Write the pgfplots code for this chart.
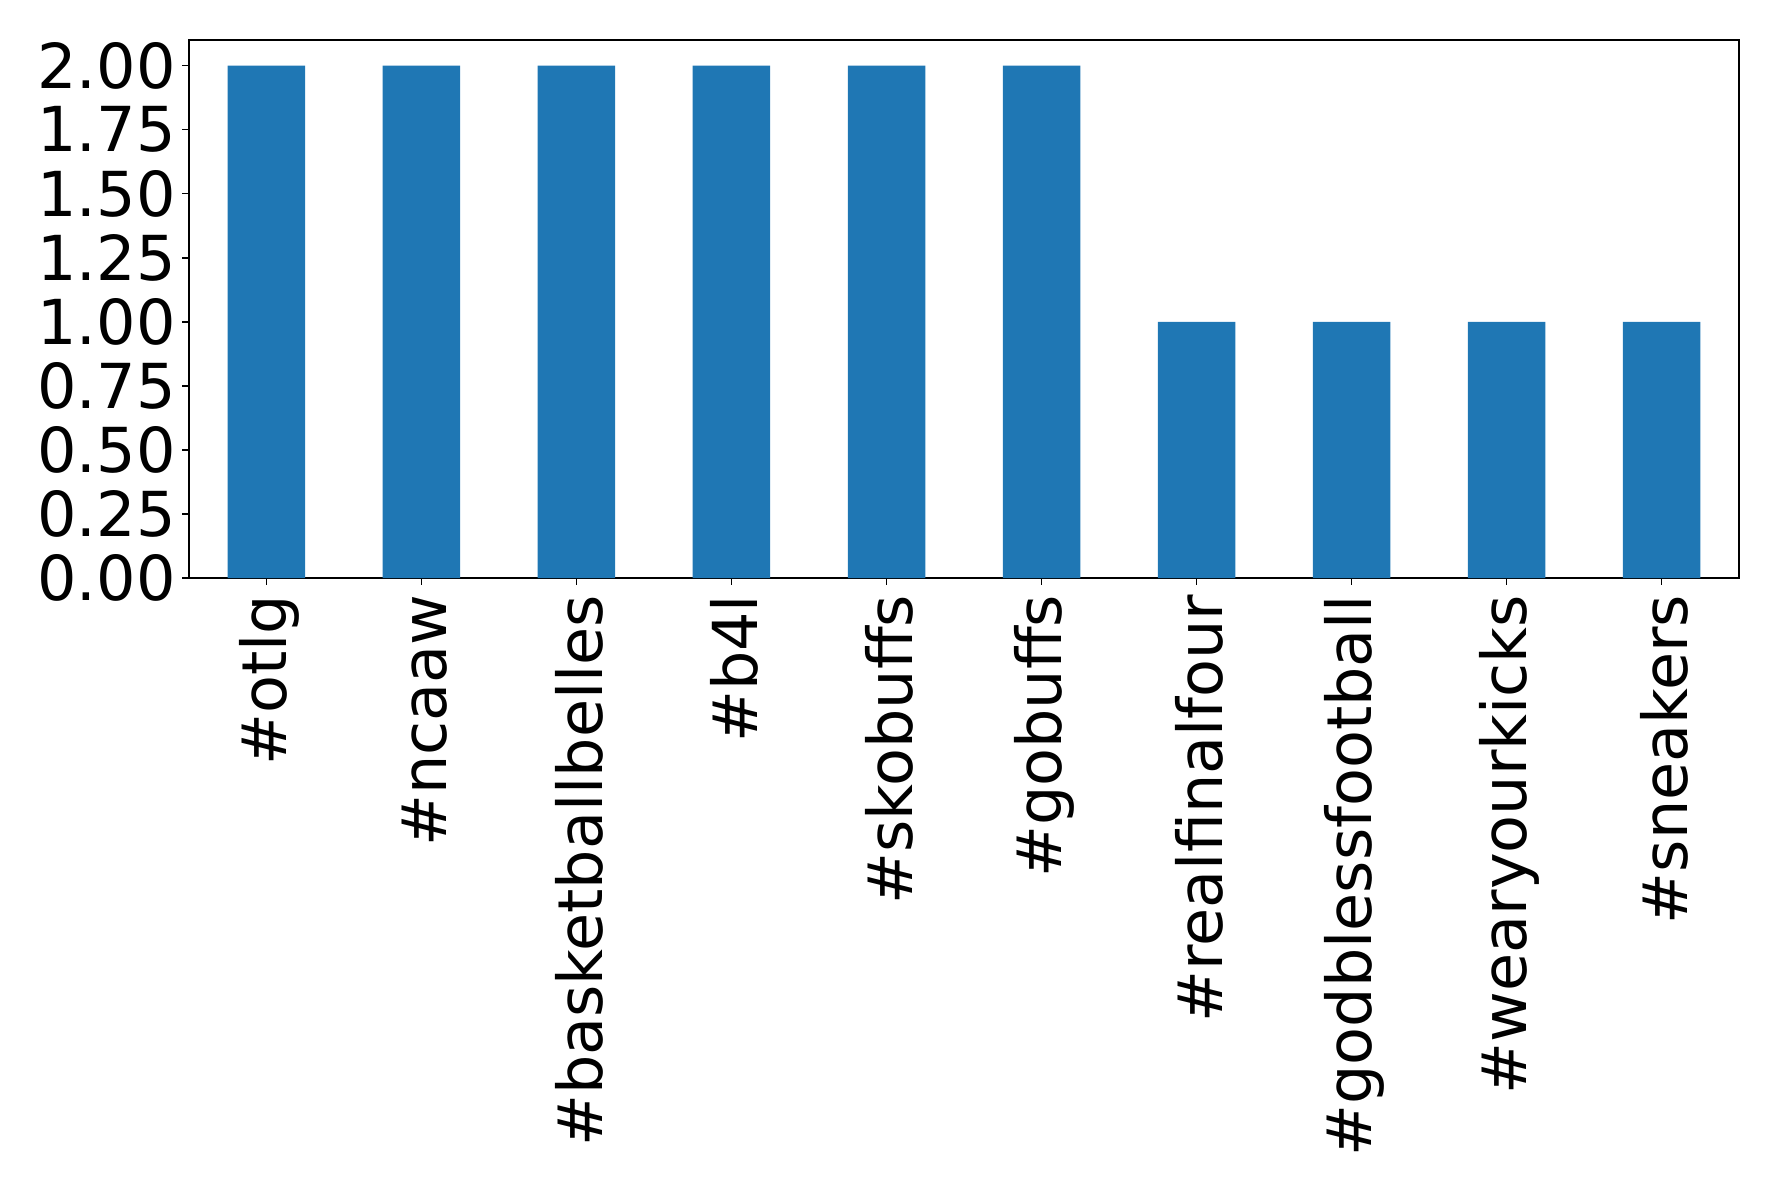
\documentclass[border=0pt]{standalone}
\usepackage{fontspec}
\setmainfont{DejaVu Sans}
\usepackage{pgfplots}
\pgfplotsset{compat=1.18}
\definecolor{tabblue}{HTML}{1F77B4}
\begin{document}
\begin{tikzpicture}
\begin{axis}[
    scale only axis,
    width=775pt, height=269pt,
    xmin=-0.5, xmax=9.5,
    ymin=0, ymax=2.1,
    xtick={0,1,2,3,4,5,6,7,8,9},
    xticklabels={\#otlg,\#ncaaw,\#basketballbelles,\#b4l,\#skobuffs,\#gobuffs,\#realfinalfour,\#godblessfootball,\#wearyourkicks,\#sneakers},
    ytick={0,0.25,0.5,0.75,1,1.25,1.5,1.75,2},
    tick align=outside,
    major tick length=3.25pt,
    tick style={black, line width=0.75pt},
    axis line style={line width=0.75pt},
    ticklabel style={font=\fontsize{31}{37}\selectfont, inner sep=0pt},
    xticklabel style={rotate=90, anchor=east, xshift=-5pt, yshift=-1.5pt},
    yticklabel style={anchor=east, xshift=-3.25pt},
    xtick pos=bottom, ytick pos=left,
    /pgf/number format/.cd, fixed, fixed zerofill, precision=2, assume math mode=true,
]
\addplot[ybar, bar width=0.5, fill=tabblue, draw=none] coordinates {
    (0,2) (1,2) (2,2) (3,2) (4,2) (5,2) (6,1) (7,1) (8,1) (9,1)
};
\end{axis}
\pgfresetboundingbox
\useasboundingbox (-94.5pt,-308pt) rectangle (794.5pt,289pt);
\end{tikzpicture}
\end{document}
